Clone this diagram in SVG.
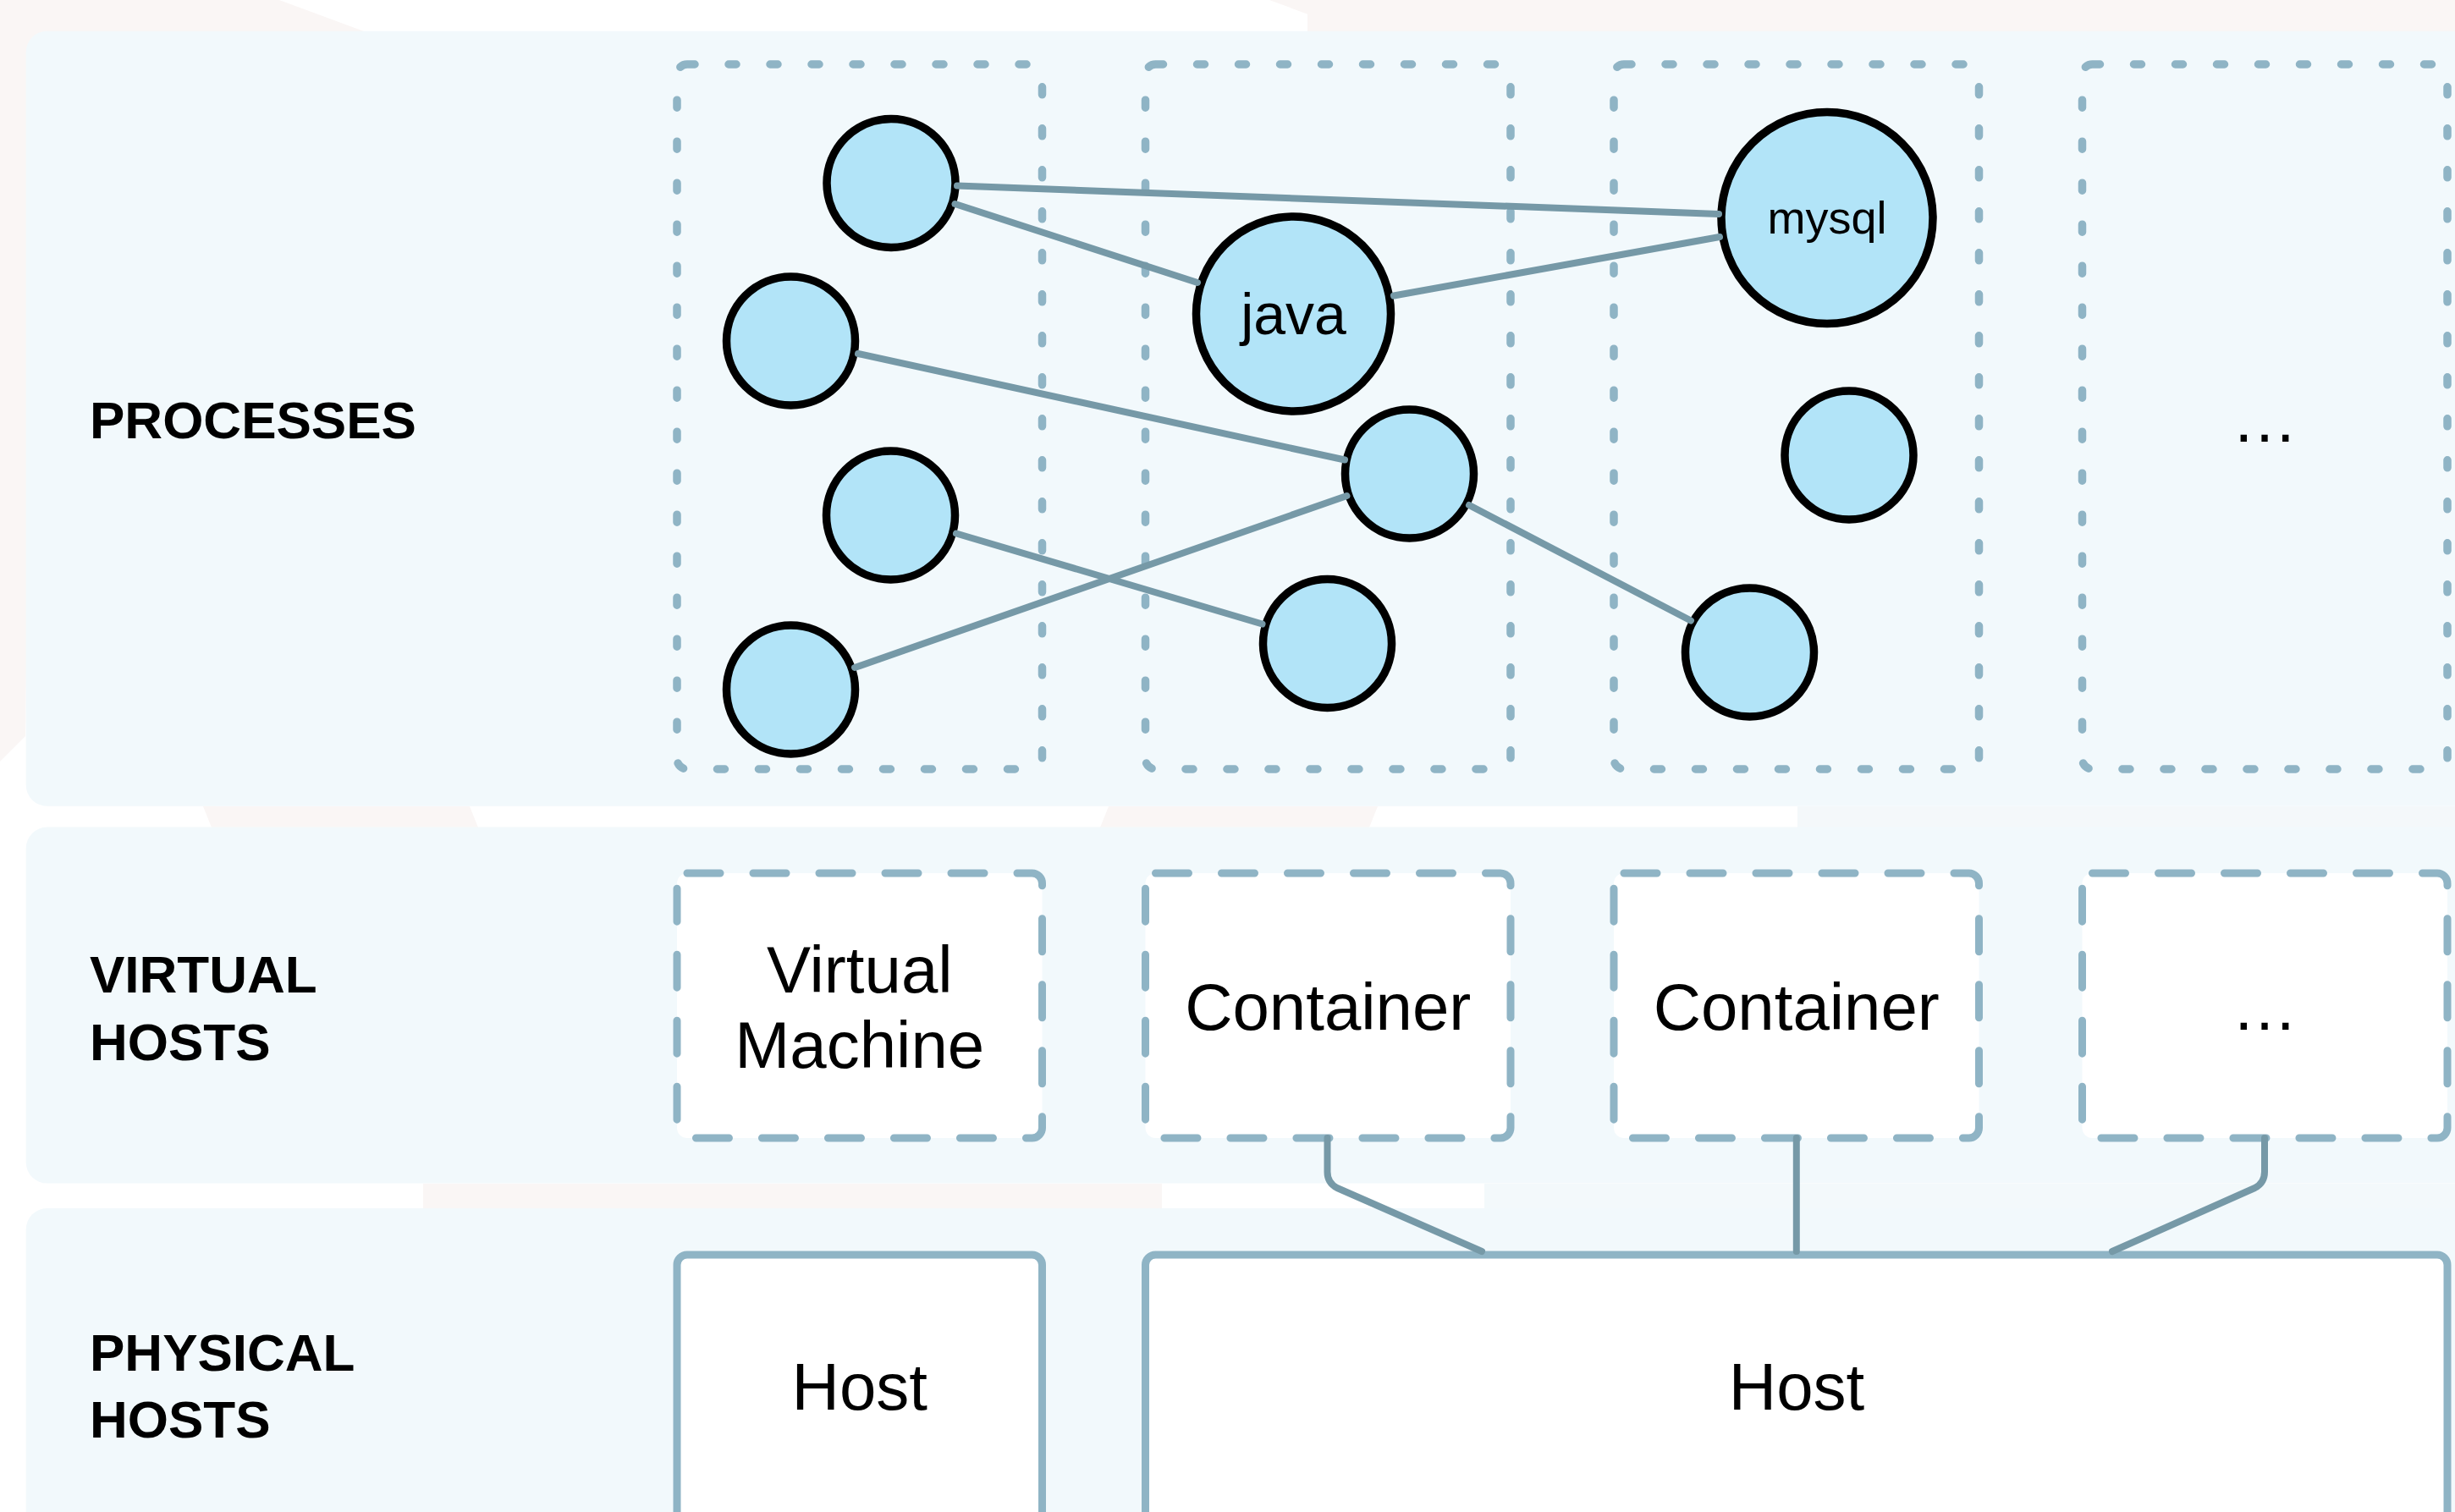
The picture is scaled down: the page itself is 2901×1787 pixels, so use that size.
<svg xmlns="http://www.w3.org/2000/svg" width="2901" height="1787" viewBox="0 0 2901 1787">
  <style>
    .panel { fill: #f2f9fc; }
    .pink { fill: #faf6f5; }
    .dotbox { fill: none; stroke: #8fb4c5; stroke-width: 9.5; stroke-dasharray: 9 40; stroke-linecap: round; }
    .dashbox { fill: #ffffff; stroke: #8fb4c5; stroke-width: 9; stroke-dasharray: 39 39; stroke-linecap: round; }
    .hostbox { fill: #ffffff; stroke: #8fb4c5; stroke-width: 9; }
    .proc { fill: #b2e4f8; stroke: #000000; stroke-width: 9.5; }
    .conn { fill: none; stroke: #7699a7; stroke-width: 8; stroke-linecap: round; stroke-linejoin: round; }
    .label { font-family: "Liberation Sans", Arial, sans-serif; font-weight: bold; font-size: 62px; fill: #000; }
    .txt { font-family: "Liberation Sans", Arial, sans-serif; font-size: 78px; fill: #000; text-anchor: middle; }
  </style>

  <!-- background -->
  <rect x="0" y="0" width="2901" height="1787" fill="#ffffff"/>
  <polygon class="pink" points="0,0 330,0 430,37 60,37 40,60 30,870 0,900"/>
  <rect class="pink" x="1545" y="0" width="1356" height="37"/>
  <polygon class="pink" points="1500,0 1545,0 1545,37 1600,37"/>
  <polygon class="pink" points="240,953 555,953 565,978 250,978"/>
  <polygon class="pink" points="1310,953 1628,953 1618,978 1300,978"/>
  <rect x="2124" y="953" width="777" height="25" fill="#f4f8fa"/>
  <rect class="pink" x="500" y="1399" width="873" height="29"/>
  <rect x="1754" y="1399" width="1147" height="29" fill="#f3f9fb"/>

  <!-- layer panels -->
  <rect class="panel" x="30.7" y="36.7" width="2920" height="916" rx="25"/>
  <rect class="panel" x="30.7" y="977.6" width="2920" height="421" rx="25"/>
  <rect class="panel" x="30.7" y="1428" width="2920" height="420" rx="25"/>

  <g id="layer-labels">
    <text class="label" x="106" y="518">PROCESSES</text>
    <text class="label" x="106" y="1173">VIRTUAL</text>
    <text class="label" x="106" y="1253">HOSTS</text>
    <text class="label" x="106" y="1620">PHYSICAL</text>
    <text class="label" x="106" y="1699">HOSTS</text>
  </g>

  <!-- process groups (dotted) -->
  <g id="proc-group-1"><rect class="dotbox" x="800" y="76" width="431.5" height="833" rx="12"/></g>
  <g id="proc-group-2"><rect class="dotbox" x="1353.5" y="76" width="431.5" height="833" rx="12"/></g>
  <g id="proc-group-3"><rect class="dotbox" x="1907" y="76" width="431.5" height="833" rx="12"/></g>
  <g id="proc-group-4">
    <rect class="dotbox" x="2460.5" y="76" width="431.5" height="833" rx="12"/>
    <text class="txt" x="2676" y="522">…</text>
  </g>

  <!-- virtual hosts -->
  <g id="vm">
    <rect class="dashbox" x="800" y="1032" width="431.5" height="313" rx="12"/>
    <text class="txt" x="1015.75" y="1173">Virtual</text>
    <text class="txt" x="1015.75" y="1262">Machine</text>
  </g>
  <g id="container-1">
    <rect class="dashbox" x="1353.5" y="1032" width="431.5" height="313" rx="12"/>
    <text class="txt" x="1569.25" y="1217">Container</text>
  </g>
  <g id="container-2">
    <rect class="dashbox" x="1907" y="1032" width="431.5" height="313" rx="12"/>
    <text class="txt" x="2122.75" y="1217">Container</text>
  </g>
  <g id="virtual-more">
    <rect class="dashbox" x="2460.5" y="1032" width="431.5" height="313" rx="12"/>
    <text class="txt" x="2676" y="1217">…</text>
  </g>

  <!-- physical hosts -->
  <g id="host-1">
    <rect class="hostbox" x="800" y="1483" width="431.5" height="400" rx="12"/>
    <text class="txt" x="1015.75" y="1666">Host</text>
  </g>
  <g id="host-2">
    <rect class="hostbox" x="1353.5" y="1483" width="1538.5" height="400" rx="12"/>
    <text class="txt" x="2123" y="1666">Host</text>
  </g>

  <!-- processes -->
  <g id="p1"><circle class="proc" cx="1053" cy="216.5" r="76"/></g>
  <g id="p2"><circle class="proc" cx="934.5" cy="403" r="76"/></g>
  <g id="p3"><circle class="proc" cx="1052.5" cy="609" r="76"/></g>
  <g id="p4"><circle class="proc" cx="934.5" cy="815" r="76"/></g>
  <g id="java">
    <circle class="proc" cx="1528.5" cy="371" r="115"/>
    <text class="txt" x="1528.5" y="395" style="font-size:68px">java</text>
  </g>
  <g id="mysql">
    <circle class="proc" cx="2159" cy="257.5" r="125"/>
    <text class="txt" x="2159" y="276" style="font-size:54px">mysql</text>
  </g>
  <g id="p5"><circle class="proc" cx="1665.5" cy="560" r="76"/></g>
  <g id="p6"><circle class="proc" cx="2185" cy="538" r="76"/></g>
  <g id="p7"><circle class="proc" cx="1568.5" cy="760.5" r="76"/></g>
  <g id="p8"><circle class="proc" cx="2067.5" cy="771" r="76"/></g>

  <!-- connectors -->
  <g id="connectors">
    <line class="conn" x1="1131" y1="219.5" x2="2031" y2="253"/>
    <line class="conn" x1="1128.5" y1="241" x2="1415" y2="334"/>
    <line class="conn" x1="1647" y1="349.5" x2="2032" y2="280"/>
    <line class="conn" x1="1014" y1="418" x2="1589" y2="543.5"/>
    <line class="conn" x1="1010" y1="789" x2="1591.5" y2="586"/>
    <line class="conn" x1="1130" y1="630.5" x2="1491.5" y2="737.5"/>
    <line class="conn" x1="1736" y1="597" x2="1998" y2="733.5"/>
    <path class="conn" d="M1568.5,1345 V1385 Q1568.5,1398 1580,1404 L1751,1479"/>
    <path class="conn" d="M2122.8,1345 V1479"/>
    <path class="conn" d="M2676,1345 V1385 Q2676,1398 2664.5,1404 L2496,1479"/>
  </g>
</svg>
